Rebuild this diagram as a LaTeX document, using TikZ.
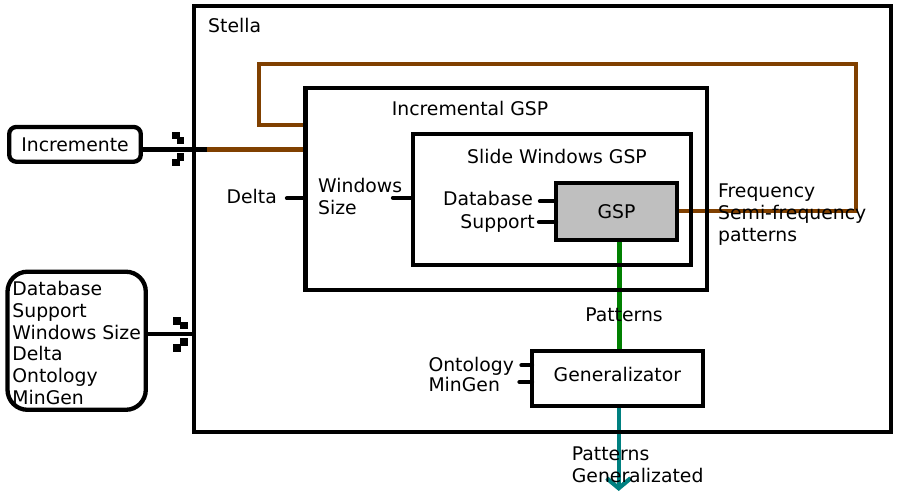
\documentclass[tikz,border=0pt]{standalone}
\usepackage{fontspec}
\setmainfont{DejaVu Sans}
\usepackage{xcolor}
\usepackage{tikz}
\usetikzlibrary{arrows.meta,backgrounds}
\definecolor{loopbrown}{RGB}{128, 64, 0}
\definecolor{patterngreen}{RGB}{0, 128, 0}
\definecolor{outputteal}{RGB}{0, 128, 128}
\definecolor{gspgray}{RGB}{191, 191, 191}
\newcommand{\portmark}[2]{\fill (#1,#2) rectangle ++(7.5,7.5);}
\tikzset{
    block/.style={draw, line width=4.3pt, inner sep=0pt, outer sep=0pt},
    inbox/.style={block, rounded corners=#1},
    plain/.style={inner sep=0pt},
    wire/.style={line width=4.3pt},
    porttick/.style={line width=4.3pt, line cap=round},
    feedback/.style={line width=4.3pt, draw=loopbrown}
}

\begin{document}
\begin{tikzpicture}[x=1pt, y=-1pt, font=\fontsize{18.8}{22}\selectfont]
    \useasboundingbox (0,0) rectangle (906,497);

    \node[block, minimum width=697.3pt, minimum height=426pt] (stella) at (542.35,219.3) {};
    \node[plain, anchor=base west] (stellatitle) at (208,33) {Stella};
    \node[block, minimum width=401.7pt, minimum height=202.6pt] (incr) at (506.2,189) {};
    \node[plain, anchor=base] (incrtitle) at (470,116) {Incremental GSP};
    \node[block, minimum width=278.3pt, minimum height=131.6pt] (slide) at (551.85,199.5) {};
    \node[plain, anchor=base] (slidetitle) at (557,164) {Slide Windows GSP};
    \node[block, fill=gspgray, minimum width=121pt, minimum height=57pt] (gsp) at (616.5,211.2) {GSP};
    \node[block, minimum width=170.7pt, minimum height=55.3pt, text depth=7pt] (gen) at (617.35,378.35) {Generalizator};

    \node[inbox=7pt, minimum width=131.6pt, minimum height=34.7pt] (incremente) at (75,144.35) {Incremente};
    \node[inbox=20pt, align=left, text height=128.5pt, text depth=0pt, minimum width=138.3pt, minimum height=138.1pt] (params) at (76.65,340.75)
        {Database\\Support\\Windows Size\\Delta\\Ontology\\MinGen};

    \node[plain, anchor=base east] (delta) at (277,204) {Delta};
    \node[plain, anchor=north west, align=left] (winsize) at (318,177.6) {Windows\\Size};
    \node[plain, anchor=base east] (database) at (533,206) {Database};
    \node[plain, anchor=base east] (support) at (535,228.3) {Support};
    \node[plain, anchor=north west, align=left] (freq) at (718,183.8) {Frequency\\Semi-frequency\\patterns};
    \node[plain, anchor=base] (patterns) at (624,321.7) {Patterns};
    \node[plain, anchor=base west] (ontology) at (428.3,371.5) {Ontology};
    \node[plain, anchor=base west] (mingen) at (428.3,391.7) {MinGen};
    \node[plain, anchor=north west, align=left] (patgen) at (571.7,447) {Patterns\\Generalizated};

    \coordinate (deltaport) at (287,198.3);
    \coordinate (winport) at (393,197.7);
    \coordinate (dbport) at (540,201.3);
    \coordinate (supportport) at (539,222);
    \coordinate (ontport) at (521.5,365.3);
    \coordinate (mingenport) at (519.5,382);
    \coordinate (incjoin) at (207,149.5);
    \coordinate (loopne) at (856,64.3);
    \coordinate (loopnw) at (258.8,64.3);
    \coordinate (loopsw) at (258.8,125);
    \coordinate (genout) at (618.7,491);

    \draw[porttick] (deltaport) -- (deltaport -| incr.west);
    \draw[porttick] (winport) -- (winport -| slide.west);
    \draw[porttick] (dbport) -- (dbport -| gsp.west);
    \draw[porttick] (supportport) -- (supportport -| gsp.west);
    \draw[porttick] (ontport) -- (ontport -| gen.west);
    \draw[porttick] (mingenport) -- (mingenport -| gen.west);

    \foreach \px/\py in {172.3/131.7, 176.7/136.7, 176.7/153.3, 172.3/159,
                         173.3/317.3, 180/322, 180/338.5, 173.3/344.5}
        {\portmark{\px}{\py}}

    \begin{scope}[on background layer]
        \draw[wire] ([yshift=-5.15pt]incremente.east) -- (incjoin);
        \draw[feedback] (incjoin) -- (incjoin -| incr.west);
        \draw[feedback] (gsp.east) -| (loopne) -- (loopnw) -- (loopsw) -- (loopsw -| incr.west);
        \draw[wire] ([yshift=6.95pt]params.east) -- ([yshift=6.95pt]params.east -| stella.west);
        \draw[wire, draw=patterngreen] ([xshift=3pt]gsp.south) -- ([xshift=3pt]gsp.south |- gen.north);
        \draw[wire, draw=outputteal, -{Straight Barb[length=10pt,width=24pt]}] (gen.south -| genout) -- (genout);
    \end{scope}
\end{tikzpicture}
\end{document}
